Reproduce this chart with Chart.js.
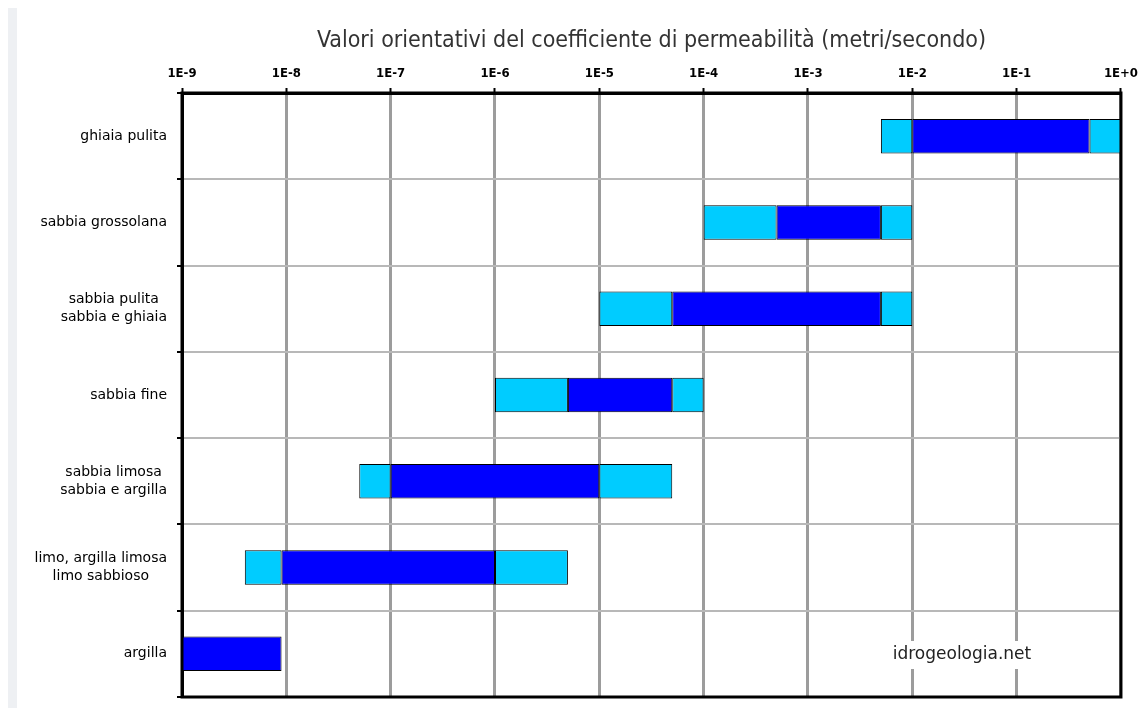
<!DOCTYPE html>
<html lang="it">
<head>
<meta charset="utf-8">
<title>Coefficiente di permeabilità</title>
<script src="https://cdn.jsdelivr.net/npm/chart.js@4/dist/chart.umd.min.js"></script>
<style>
  html, body { margin: 0; padding: 0; background: #fff; }
  #wrap { position: relative; width: 1145px; height: 708px; }
  #strip { position: absolute; left: 8px; top: 8px; width: 9px; bottom: 0; background: #eef0f3; }
  #chart { position: absolute; left: 0; top: 0; }
</style>
</head>
<body>
<div id="wrap">
  <div id="strip"></div>
  <canvas id="chart" width="1145" height="708"></canvas>
</div>
<script>
'use strict';

// ── Dati ─────────────────────────
const categories = [
  'ghiaia pulita',
  'sabbia grossolana',
  ['sabbia pulita', 'sabbia e ghiaia'],
  'sabbia fine',
  ['sabbia limosa', 'sabbia e argilla'],
  ['limo, argilla limosa', 'limo sabbioso'],
  'argilla'
];
// campo complessivo (azzurro) e campo tipico (blu), in m/s
const rangeMin = [5e-3, 1e-4, 1e-5, 1e-6, 5e-8, 4e-9, null];
const typMin   = [1e-2, 5e-4, 5e-5, 5e-6, 1e-7, 9e-9, 1e-9];
const typMax   = [5e-1, 5e-3, 5e-3, 5e-5, 1e-5, 1e-6, 9e-9];
const rangeMax = [1,    1e-2, 1e-2, 1e-4, 5e-5, 5e-6, null];

const tickValues = [1e-9, 1e-8, 1e-7, 1e-6, 1e-5, 1e-4, 1e-3, 1e-2, 1e-1, 1];
const tickLabels = ['1E-9', '1E-8', '1E-7', '1E-6', '1E-5', '1E-4', '1E-3', '1E-2', '1E-1', '1E+0'];

const TITLE = 'Valori orientativi del coefficiente di permeabilità (metri/secondo)';

// ── Stile ─────
const DARK  = '#0000ff';
const LIGHT = '#00ccff';
const COND  = "'DejaVu Sans Condensed', 'DejaVu Sans', sans-serif";
const SANS  = "'DejaVu Sans', Verdana, sans-serif";

// titolo centrato sul riquadro del grafico
const plotTitle = {
  id: 'plotTitle',
  afterDraw(chart) {
    const { ctx, chartArea: a } = chart;
    ctx.save();
    ctx.font = '23px ' + COND;
    ctx.fillStyle = '#333';
    ctx.textAlign = 'center';
    ctx.textBaseline = 'middle';
    ctx.fillText(TITLE, (a.left + a.right) / 2, a.top - 52);
    ctx.restore();
  }
};

// bordo nero su tutti e quattro i lati del riquadro
const frame = {
  id: 'frame',
  afterDatasetsDraw(chart) {
    const { ctx, chartArea: a } = chart;
    ctx.save();
    ctx.strokeStyle = '#000';
    ctx.lineWidth = 3;
    ctx.strokeRect(a.left, a.top, a.right - a.left, a.bottom - a.top);
    ctx.restore();
  }
};

// etichette delle categorie: blocco allineato a destra, righe centrate
const catLabels = {
  id: 'catLabels',
  afterDraw(chart) {
    const { ctx, chartArea: a } = chart;
    const y = chart.scales.y;
    ctx.save();
    ctx.font = '14px ' + SANS;
    ctx.fillStyle = '#000';
    ctx.textAlign = 'center';
    ctx.textBaseline = 'middle';
    categories.forEach((c, i) => {
      const lines = Array.isArray(c) ? c : [c];
      const w = Math.max(...lines.map(l => ctx.measureText(l).width));
      const cx = a.left - 15 - w / 2;
      const cy = y.getPixelForValue(i);
      const lh = 18;
      lines.forEach((l, k) => {
        ctx.fillText(l, cx, cy + (k - (lines.length - 1) / 2) * lh);
      });
    });
    ctx.restore();
  }
};

// scritta del sito, con fondo bianco sopra la griglia
const watermark = {
  id: 'watermark',
  afterDatasetsDraw(chart) {
    const { ctx, chartArea: a } = chart;
    const text = 'idrogeologia.net';
    ctx.save();
    ctx.font = '17px ' + SANS;
    const w = ctx.measureText(text).width;
    const cx = a.right - 159;
    const cy = a.bottom - 42;
    ctx.fillStyle = '#fff';
    ctx.fillRect(cx - w / 2 - 6, cy - 14, w + 12, 28);
    ctx.fillStyle = '#222';
    ctx.textAlign = 'center';
    ctx.textBaseline = 'middle';
    ctx.fillText(text, cx, cy);
    ctx.restore();
  }
};

function segments(lo, hi) {
  return categories.map((_, i) => (lo[i] != null && hi[i] != null) ? [lo[i], hi[i]] : null);
}

const barStyle = {
  borderColor: '#000',
  borderWidth: 1,
  borderSkipped: false,
  grouped: false,
  barPercentage: 0.4,
  categoryPercentage: 1
};

new Chart(document.getElementById('chart'), {
  type: 'bar',
  data: {
    labels: categories,
    datasets: [
      Object.assign({ label: 'min', data: segments(rangeMin, typMin), backgroundColor: LIGHT }, barStyle),
      Object.assign({ label: 'max', data: segments(typMax, rangeMax), backgroundColor: LIGHT }, barStyle),
      Object.assign({ label: 'tipico', data: segments(typMin, typMax), backgroundColor: DARK }, barStyle)
    ]
  },
  options: {
    indexAxis: 'y',
    responsive: false,
    animation: false,
    layout: { padding: { left: 0, right: 23, bottom: 11, top: 50 } },
    plugins: {
      legend: { display: false },
      tooltip: { enabled: false },
      title: { display: false }
    },
    scales: {
      x: {
        type: 'logarithmic',
        position: 'top',
        min: 1e-9,
        max: 1,
        afterBuildTicks: (scale) => { scale.ticks = tickValues.map(v => ({ value: v })); },
        afterFit: (scale) => { scale.height = 43; },
        ticks: {
          color: '#000',
          padding: 7,
          maxRotation: 0,
          autoSkip: false,
          font: { family: COND, size: 13, weight: 'bold' },
          callback: (v, i) => tickLabels[i]
        },
        grid: { color: '#9c9c9c', lineWidth: 3, tickLength: 5, tickColor: '#000', tickWidth: 2 },
        border: { color: '#000', width: 3 }
      },
      y: {
        afterFit: (scale) => { scale.width = 182; },
        ticks: { display: false },
        grid: { color: '#b8b8b8', lineWidth: 2, tickLength: 5, tickColor: '#000', tickWidth: 2 },
        border: { color: '#000', width: 3 }
      }
    }
  },
  plugins: [frame, watermark, catLabels, plotTitle]
});
</script>
</body>
</html>
